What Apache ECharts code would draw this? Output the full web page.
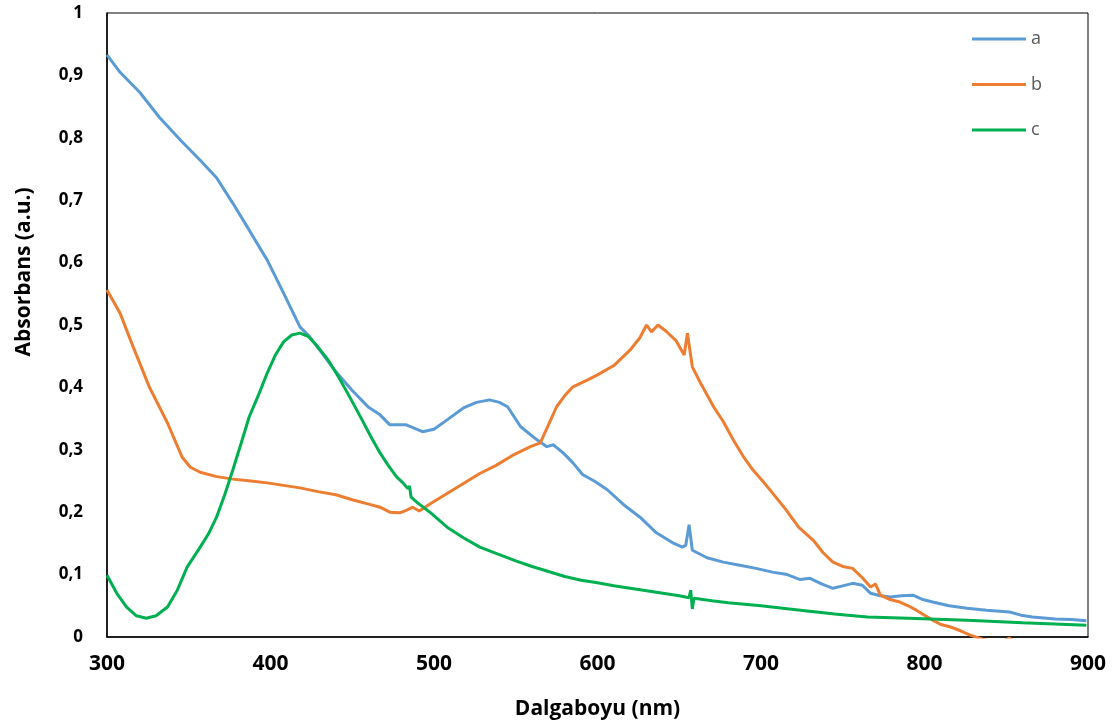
<!DOCTYPE html>
<html>
<head>
<meta charset="utf-8">
<script src="https://cdn.jsdelivr.net/npm/echarts@6/dist/echarts.min.js"></script>
<style>html,body{margin:0;padding:0;background:#fff}#c{width:1115px;height:726px}</style>
</head>
<body>
<div id="c"></div>
<script>
const seriesNames = ['a', 'b', 'c'];
const xTicks = [300, 400, 500, 600, 700, 800, 900];
const yTicks = [0, 0.1, 0.2, 0.3, 0.4, 0.5, 0.6, 0.7, 0.8, 0.9, 1];

const aX = [300,308,320,332,345,357,367,377,387,398,408,418,424,430,440,450,460,467,473,483,493,500,508,518,526,534,540,545,553,563,569,573,579,585,591,598,606,616,626,636,646,652,654,656,658,667,677,687,697,707,716,724,730,737,744,750,756,762,767,773,779,786,793,799,805,815,826,838,852,859,866,880,890,899];
const aY = [.933,.905,.873,.833,.796,.764,.736,.695,.652,.604,.551,.497,.481,.46,.425,.395,.368,.356,.34,.34,.329,.333,.348,.367,.376,.38,.376,.369,.337,.316,.305,.308,.295,.279,.26,.25,.236,.212,.192,.167,.151,.144,.147,.18,.139,.127,.12,.115,.11,.104,.1,.092,.094,.085,.078,.082,.086,.083,.07,.066,.064,.066,.067,.06,.056,.05,.046,.043,.04,.035,.032,.029,.028,.026];

const bX = [300,308,316,326,337,346,351,357,367,377,388,398,408,418,429,440,450,460,467,473,479,483,487,491,498,508,518,528,538,548,559,565,570,575,580,585,594,600,610,620,626,630,633,637,642,648,653,655,658,663,671,677,683,689,695,701,707,715,723,732,738,744,750,756,762,767,770,773,779,785,790,795,800,805,810,816,822,828,835,845,852,860,880,900];
const bY = [.556,.519,.465,.40,.343,.288,.272,.264,.257,.253,.25,.247,.243,.239,.233,.228,.22,.213,.208,.2,.199,.203,.208,.202,.214,.23,.246,.262,.275,.291,.305,.311,.34,.369,.387,.401,.412,.42,.435,.46,.48,.5,.489,.5,.49,.475,.452,.487,.433,.407,.369,.345,.316,.29,.268,.25,.231,.205,.176,.155,.135,.12,.113,.11,.095,.08,.085,.067,.06,.056,.05,.043,.035,.027,.02,.016,.01,.003,-.003,-.01,-.002,-.015,-.03,-.045];

const cX = [300,306,312,318,324,330,337,343,349,357,362,367,372,377,382,387,393,398,403,408,413,418,423,428,435,442,449,456,462,467,472,477,481,484,485,486,490,498,508,518,528,540,550,560,570,580,590,600,610,620,630,640,650,656,657,658,659,670,680,700,724,745,765,790,826,860,899];
const cY = [.099,.07,.048,.034,.030,.034,.048,.075,.112,.144,.165,.192,.228,.268,.31,.353,.39,.423,.452,.473,.484,.487,.482,.468,.445,.415,.382,.348,.318,.295,.275,.257,.247,.238,.242,.224,.215,.199,.176,.159,.144,.132,.122,.113,.105,.097,.091,.087,.082,.078,.074,.07,.066,.063,.075,.045,.062,.058,.055,.05,.043,.037,.032,.03,.027,.023,.019];

const colors = ['#5B9BD5', '#ED7D31', '#00B050'];
const xs = [aX, bX, cX];
const ys = [aY, bY, cY];

const chart = echarts.init(document.getElementById('c'), null, {renderer: 'canvas'});
const fontFam = '"Open Sans", "DejaVu Sans", sans-serif';
chart.setOption({
  animation: false,
  backgroundColor: '#fff',
  grid: {left: 107, right: 27, top: 13, bottom: 89, show: true, borderColor: '#000', borderWidth: 1},
  legend: {
    orient: 'vertical', left: 967, top: 23,
    icon: 'rect', itemWidth: 54, itemHeight: 3, itemGap: 23.5,
    data: seriesNames,
    textStyle: {color: '#595959', fontSize: 18, lineHeight: 22, fontFamily: fontFam}
  },
  xAxis: {
    type: 'value', min: xTicks[0], max: xTicks[xTicks.length - 1], interval: 100,
    name: 'Dalgaboyu (nm)', nameLocation: 'middle', nameGap: 62,
    nameTextStyle: {fontSize: 21, fontWeight: 'bold', color: '#000', fontFamily: fontFam},
    axisLine: {lineStyle: {color: '#000', width: 1.5}},
    axisTick: {show: false},
    splitLine: {show: false},
    axisLabel: {fontSize: 21, fontWeight: 'bold', color: '#000', margin: 17, fontFamily: fontFam}
  },
  yAxis: {
    type: 'value', min: yTicks[0], max: yTicks[yTicks.length - 1], interval: 0.1,
    axisLine: {show: true, lineStyle: {color: '#000', width: 1.5}},
    axisTick: {show: false},
    splitLine: {show: false},
    axisLabel: {fontSize: 17, fontWeight: 'bold', color: '#000', margin: 24, fontFamily: fontFam,
      formatter: v => String(+v.toFixed(1)).replace('.', ',')}
  },
  graphic: [{
    type: 'text', x: 24, y: 272, rotation: Math.PI / 2,
    style: {text: 'Absorbans (a.u.)', fontSize: 21, fontWeight: 'bold', fill: '#000',
      fontFamily: fontFam, align: 'center', verticalAlign: 'middle'},
    originX: 0, originY: 0
  }],
  series: seriesNames.map((n, i) => ({
    name: n, type: 'line', symbol: 'none', smooth: false, clip: true,
    color: colors[i],
    lineStyle: {width: 3, color: colors[i]},
    data: xs[i].map((x, k) => [x, ys[i][k]])
  }))
});
</script>
</body>
</html>
